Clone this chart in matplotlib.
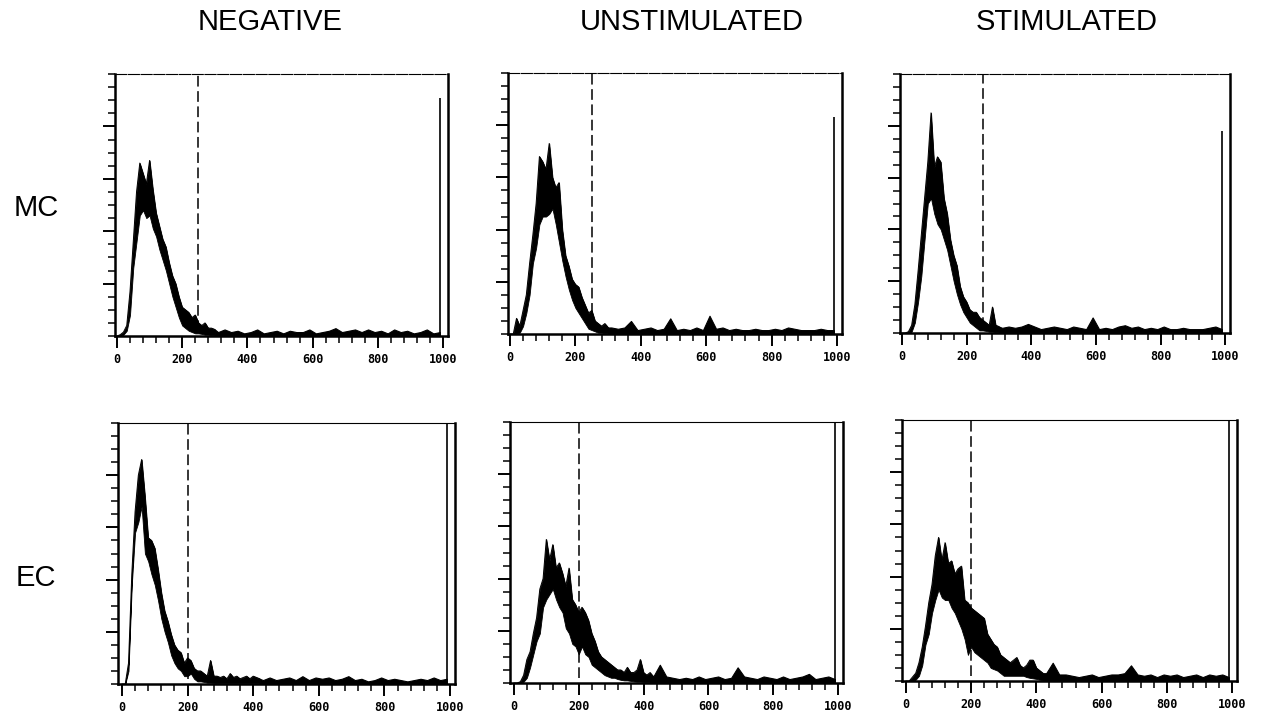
import numpy as np
import matplotlib.pyplot as plt
from matplotlib.ticker import MultipleLocator

# ---- data (y scaled 0-100) ----
col_titles = ['NEGATIVE', 'UNSTIMULATED', 'STIMULATED']
row_labels = ['MC', 'EC']
xtick_vals = [0, 200, 400, 600, 800, 1000]
xtick_text = ['0', '200', '400', '600', '800', '1000']

peak_x_top = list(range(0, 310, 10))
peak_x_bot = list(range(0, 430, 10))
tail_x_top = list(range(310, 1000, 20))
tail_x_bot = list(range(430, 1000, 20))

# MC row
mc_neg_hi = [0, 0.5, 1.5, 4, 17, 36, 55, 66, 62, 58, 67, 56, 47, 42, 37, 34, 28, 23, 20, 15, 11, 10, 9, 7, 8, 5, 4, 5, 3, 3, 2.5]
mc_neg_lo = [0, 0, 0.5, 2, 8, 26, 36, 46, 48, 45, 46, 41, 38, 33, 29, 25, 20, 15, 11, 7, 4, 3, 2, 1.5, 1, 1, 0.8, 0.5, 0.5, 0.3, 0.3]
mc_neg_tail = [1.5, 2.5, 1.5, 2, 1, 1.5, 2.5, 1, 1.5, 2, 1, 2, 1.5, 1.5, 2.5, 1, 1.5, 2, 3, 1.5, 2, 2.5, 1.5, 2.5, 1.5,
               2, 1, 2.5, 1.5, 2, 1, 1.5, 2.5, 1, 1.5]

mc_uns_hi = [0, 0, 6, 3, 9, 15, 27, 38, 50, 68, 66, 63, 73, 60, 56, 58, 40, 30, 26, 21, 19, 18, 14, 11, 8, 9, 5, 4, 3, 4, 2.5]
mc_uns_lo = [0, 0, 0, 0.5, 3, 8, 15, 27, 33, 42, 45, 45, 46, 48, 42, 35, 28, 22, 17, 13, 10, 8, 6, 4, 2, 1.5, 1, 0.5, 0.5, 0.3, 0.3]
mc_uns_tail = [2.5, 2, 2.5, 5, 1.5, 2, 2.5, 1.5, 2, 6, 1.5, 2, 1.5, 2.5, 1.5, 7, 2, 2.5, 1.5, 2, 1.5, 1.5, 2, 1.5, 1.5,
               2, 1.5, 2.5, 2, 1.5, 1.5, 1.5, 2, 1.5, 1.5]

mc_sti_hi = [0, 0, 0.5, 3, 11, 24, 38, 52, 66, 85, 64, 68, 66, 52, 46, 36, 30, 26, 18, 14, 12, 9, 8, 8, 6, 5, 4, 3, 10, 3, 2.5]
mc_sti_lo = [0, 0, 0, 0.5, 4, 12, 22, 36, 50, 52, 46, 42, 40, 36, 32, 26, 20, 15, 11, 8, 6, 4, 3, 2, 1, 1, 0.8, 0.5, 0.5, 0.3, 0.3]
mc_sti_tail = [2, 2.5, 2, 2.5, 3.5, 2.5, 1.5, 2, 2.5, 2, 1.5, 2.5, 2, 1.5, 6, 1.5, 2, 1.5, 2.5, 3, 2, 2.5, 1.5, 2, 1.5,
               2.5, 1.5, 1.5, 2, 1.5, 1.5, 1.5, 2, 2.5, 1.5]

# EC row
ec_neg_hi = [0, 0, 8, 42, 66, 80, 86, 72, 56, 55, 52, 44, 35, 28, 24, 19, 15, 13, 12, 8, 10, 9, 6, 5, 5, 4, 3, 9, 3, 3, 2.5,
             3, 2, 4, 2.5, 3, 2, 2.5, 3, 2, 3, 2.5, 2]
ec_neg_lo = [0, 0, 5, 38, 58, 62, 68, 50, 47, 42, 38, 32, 25, 20, 16, 11, 8, 6, 5, 3, 3, 4, 2, 1, 1, 0.8, 0.5, 0.5, 0.4, 0.3, 0.3,
             0.3, 0.3, 0.3, 0.3, 0.3, 0.3, 0.3, 0.3, 0.3, 0.3, 0.3, 0.3]
ec_neg_tail = [1.5, 2.5, 1.5, 2, 2.5, 1.5, 3, 1.5, 2.5, 2, 2.5, 1.5, 2, 3, 1.5, 2, 1, 1.5, 2.5, 1.5, 2, 1.5, 1, 1.5, 2,
               1.5, 2.5, 1.5, 2]

ec_uns_hi = [0, 0, 0.5, 3, 9, 12, 19, 25, 36, 40, 55, 47, 53, 44, 46, 42, 37, 44, 32, 30, 27, 29, 27, 24, 19, 16, 12, 10, 9, 8, 7,
             6, 5, 5, 4, 6, 4, 4, 5, 9, 4, 3, 4]
ec_uns_lo = [0, 0, 0, 0.5, 2, 6, 11, 16, 19, 29, 32, 34, 36, 32, 29, 27, 21, 19, 15, 14, 11, 14, 11, 10, 7, 6, 5, 4, 3, 2.5, 2,
             2, 1.5, 1.2, 1, 1, 0.8, 0.6, 0.5, 0.5, 0.4, 0.3, 0.3]
ec_uns_tail = [2.5, 7, 2.5, 2, 1.5, 2, 1.5, 2.5, 1.5, 2, 2.5, 1.5, 2, 6, 2.5, 2, 1.5, 2.5, 2, 1.5, 2.5, 1.5, 2, 2.5, 3.5,
               1.5, 2, 2.5, 1.5]

ec_sti_hi = [0, 0, 1.5, 3, 7, 13, 21, 30, 37, 48, 55, 46, 53, 45, 46, 41, 43, 44, 31, 30, 28, 27, 26, 25, 24, 18, 16, 14, 13, 10, 9,
             8, 7, 8, 9, 6, 5, 6, 8, 8, 5, 4, 3]
ec_sti_lo = [0, 0, 0, 0.5, 2, 6, 14, 18, 26, 31, 35, 32, 31, 31, 28, 26, 23, 20, 16, 10, 13, 11, 10, 9, 8, 7, 5, 4.5, 4, 3, 2,
             2, 2, 2, 2, 2, 2, 1.5, 1.2, 1, 0.8, 0.5, 0.3]
ec_sti_tail = [3, 7, 2.5, 2.5, 2, 1.5, 2, 2.5, 1.5, 2, 2.5, 2.5, 3, 6, 2.5, 2, 2.5, 1.5, 2.5, 2, 2.5, 1.5, 2, 2.5, 1.5,
               2.5, 2, 2.5, 1.5]

gates = [250, 250, 250, 200, 200, 200]
end_channel = 990
end_heights = [91, 83, 78, 100, 100, 100]

# ---- figure ----
W, H = 1261, 713
fig = plt.figure(figsize=(W / 100, H / 100), dpi=100)

# panel spines in pixels: left, right, top, bottom
boxes = [(115, 448, 74, 336), (508, 842, 73, 334), (900, 1230, 74, 333),
         (118, 455, 423, 684), (510, 843, 422, 683), (902, 1237, 420, 681)]

panels = [(peak_x_top, mc_neg_hi, mc_neg_lo, tail_x_top, mc_neg_tail),
          (peak_x_top, mc_uns_hi, mc_uns_lo, tail_x_top, mc_uns_tail),
          (peak_x_top, mc_sti_hi, mc_sti_lo, tail_x_top, mc_sti_tail),
          (peak_x_bot, ec_neg_hi, ec_neg_lo, tail_x_bot, ec_neg_tail),
          (peak_x_bot, ec_uns_hi, ec_uns_lo, tail_x_bot, ec_uns_tail),
          (peak_x_bot, ec_sti_hi, ec_sti_lo, tail_x_bot, ec_sti_tail)]

for i, (box, (px, hi, lo, tx, tail)) in enumerate(zip(boxes, panels)):
    l, r, t, b = box
    ax = fig.add_axes([l / W, 1 - b / H, (r - l) / W, (b - t) / H])
    # peak: dark noisy band between lower and upper envelope
    ax.fill_between(px, lo, hi, color='black', lw=0.6, edgecolor='black')
    ax.plot(px, hi, color='black', lw=0.7)
    # tail: thin noisy band sitting on the baseline
    ax.fill_between(px[-1:] + tx, 0, hi[-1:] + tail, color='black', lw=0.8, edgecolor='black')
    ax.vlines(end_channel, 0, end_heights[i], color='black', lw=1.2)
    ax.vlines(gates[i], 2, 100, color='black', lw=1.1, linestyles=(0, (7, 3)))

    ax.set_xlim(-6 if i < 3 else -12, 1015)
    ax.set_ylim(0, 100)
    for side in ['left', 'bottom', 'right']:
        ax.spines[side].set_linewidth(1.8)
    ax.spines['top'].set_linewidth(0.8)
    if i < 3:
        ax.spines['top'].set_linestyle((0, (10, 1.5)))

    ax.set_xticks(xtick_vals)
    ax.set_xticklabels(xtick_text, family='DejaVu Sans Mono', fontweight='bold', fontsize=8.5)
    ax.xaxis.set_minor_locator(MultipleLocator(40))
    ax.set_yticks([20, 40, 60, 80])
    ax.set_yticklabels([])
    ax.yaxis.set_minor_locator(MultipleLocator(5))
    ax.tick_params(axis='both', which='major', direction='out', length=8.5, width=1.4, pad=4)
    ax.tick_params(axis='both', which='minor', direction='out', length=5, width=1.1)

titles_x = [270, 692, 1067]
for tx_, name in zip(titles_x, col_titles):
    fig.text(tx_ / W, 1 - 22 / H, name, ha='center', va='center',
             family='Liberation Sans', fontsize=21)

rows_y = [208, 578]
for ry, name in zip(rows_y, row_labels):
    fig.text(36 / W, 1 - ry / H, name, ha='center', va='center',
             family='Liberation Sans', fontsize=21)

fig.savefig('out.png', dpi=100)
